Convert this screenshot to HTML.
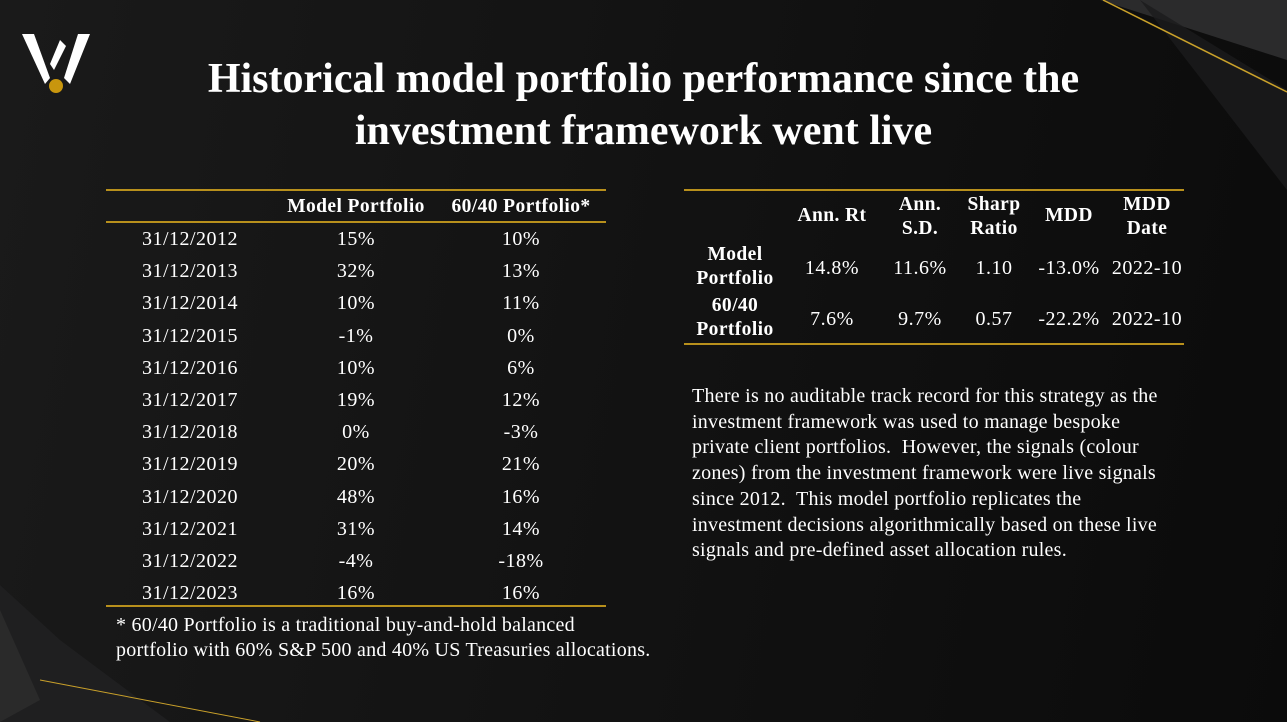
<!DOCTYPE html>
<html><head><meta charset="utf-8">
<style>
*{margin:0;padding:0;box-sizing:border-box}
body{width:1287px;height:722px;overflow:hidden;background:#111;font-family:"Liberation Serif",serif;color:#fff;position:relative}
#bg{position:absolute;inset:0;background:linear-gradient(100deg,#1a1a1a 0%,#131313 45%,#0b0b0b 100%)}
.t{position:absolute;white-space:nowrap;font-size:20px;letter-spacing:0.5px}
.p{letter-spacing:0.25px}
.c{transform:translateX(-50%);text-align:center}
.b{font-weight:bold;font-size:19.5px;letter-spacing:0.4px}
.line{position:absolute;height:1.5px;background:#b8901c}
h1{position:absolute;left:0;width:1287px;top:53px;text-align:center;font-size:42px;line-height:52px;font-weight:bold}
</style></head><body>
<div id="bg"></div>
<svg style="position:absolute;left:0;top:0" width="1287" height="722">
<polygon points="1100,0 1287,0 1287,60" fill="#2b2b2c"/>
<polygon points="1140,0 1287,90 1287,190" fill="#1c1c1d" opacity="0.8"/>
<line x1="1103" y1="0" x2="1287" y2="92" stroke="#c9a02a" stroke-width="1.5"/>
<polygon points="0,585 60,640 170,722 0,722" fill="#1f1f20"/>
<polygon points="0,610 40,700 0,722" fill="#2a2a2a"/>
<line x1="40" y1="680" x2="260" y2="722" stroke="#c9a02a" stroke-width="1"/>
</svg>
<svg style="position:absolute;left:20px;top:32px" width="72" height="62">
<polygon points="2,2 14,2 30,46 25,52" fill="#fff"/>
<polygon points="58,2 70,2 50,52 44,46" fill="#fff"/>
<polygon points="40,8 46,14 34,38 30,32" fill="#fff"/>
<circle cx="36" cy="54" r="7" fill="#c8960e"/>
</svg>
<h1>Historical model portfolio performance since the<br>investment framework went live</h1>

<div class="line" style="left:106px;top:189px;width:500px"></div>
<div class="line" style="left:106px;top:221px;width:500px"></div>
<div class="line" style="left:106px;top:605px;width:500px"></div>
<div class="t b c" style="left:356px;top:196px">Model Portfolio</div>
<div class="t b c" style="left:521px;top:196px">60/40 Portfolio*</div>
<div id="rows"></div>

<div class="line" style="left:684px;top:189px;width:500px"></div>
<div class="line" style="left:684px;top:343px;width:500px"></div>
<div class="t b c" style="left:832px;top:205px">Ann. Rt</div>
<div class="t b c" style="left:920px;top:193px;line-height:24px">Ann.<br>S.D.</div>
<div class="t b c" style="left:994px;top:193px;line-height:24px">Sharp<br>Ratio</div>
<div class="t b c" style="left:1069px;top:205px">MDD</div>
<div class="t b c" style="left:1147px;top:193px;line-height:24px">MDD<br>Date</div>
<div class="t b c" style="left:735px;top:243px;line-height:24px">Model<br>Portfolio</div>
<div class="t b c" style="left:735px;top:294px;line-height:24px">60/40<br>Portfolio</div>
<div id="stats"></div>

<div class="t p" style="left:692px;top:384px;line-height:25.7px">There is no auditable track record for this strategy as the<br>investment framework was used to manage bespoke<br>private client portfolios.&nbsp; However, the signals (colour<br>zones) from the investment framework were live signals<br>since 2012.&nbsp; This model portfolio replicates the<br>investment decisions algorithmically based on these live<br>signals and pre-defined asset allocation rules.</div>
<div class="t p" style="left:116px;top:613px;line-height:25px">* 60/40 Portfolio is a traditional buy-and-hold balanced<br>portfolio with 60% S&amp;P 500 and 40% US Treasuries allocations.</div>
<script>
const dates=["31/12/2012","31/12/2013","31/12/2014","31/12/2015","31/12/2016","31/12/2017","31/12/2018","31/12/2019","31/12/2020","31/12/2021","31/12/2022","31/12/2023"];
const modelRet=["15%","32%","10%","-1%","10%","19%","0%","20%","48%","31%","-4%","16%"];
const bal6040=["10%","13%","11%","0%","6%","12%","-3%","21%","16%","14%","-18%","16%"];
const statModel=["14.8%","11.6%","1.10","-13.0%","2022-10"];
const stat6040=["7.6%","9.7%","0.57","-22.2%","2022-10"];
function cell(parent,txt,x,y,name){const d=document.createElement('div');d.className='t c';d.style.left=x+'px';d.style.top=y+'px';d.textContent=txt;


parent.appendChild(d);}
const R=document.getElementById('rows');
dates.forEach((d,i)=>{const y=228+i*32.2;cell(R,d,190,y,'date-cell');cell(R,modelRet[i],356,y,'model-return-cell');cell(R,bal6040[i],521,y,'6040-return-cell');});
const S=document.getElementById('stats');const sx=[832,920,994,1069,1147];
statModel.forEach((v,i)=>cell(S,v,sx[i],257,'model-stat-cell'));
stat6040.forEach((v,i)=>cell(S,v,sx[i],308,'6040-stat-cell'));
</script>
</body></html>
